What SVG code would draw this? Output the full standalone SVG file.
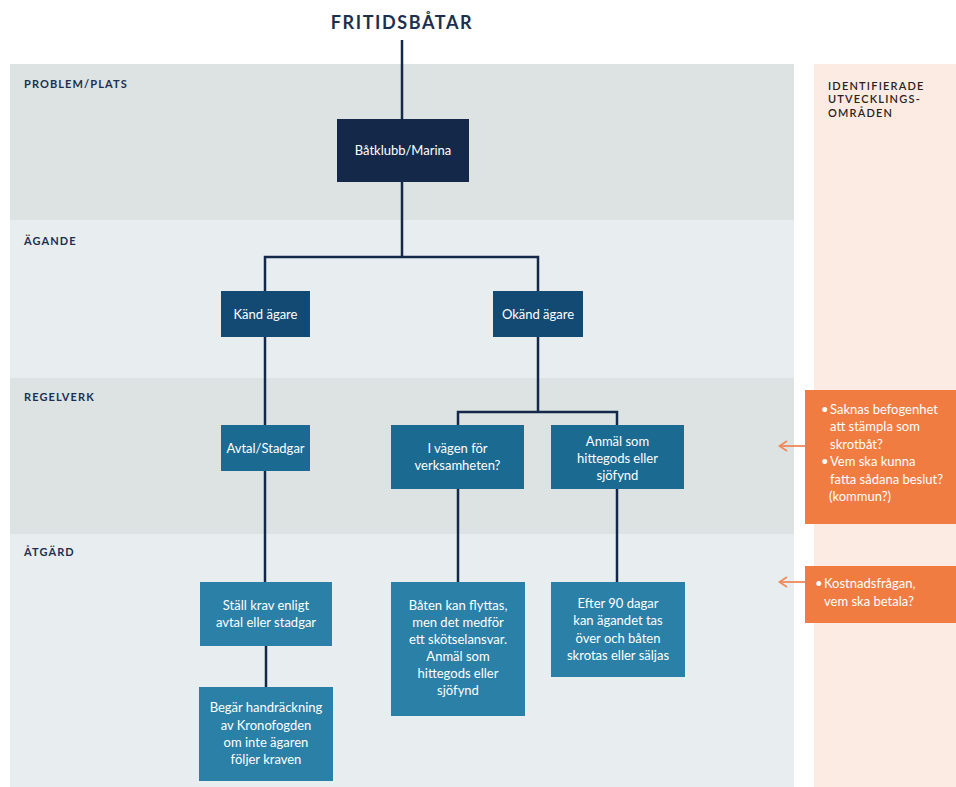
<svg xmlns="http://www.w3.org/2000/svg" width="956" height="787" viewBox="0 0 956 787">
  <defs>
    <style>
      .band-a { fill: #dde3e3; }
      .band-b { fill: #e8eef0; }
      .title { font-family: Lato, "Liberation Sans", sans-serif; font-weight: 700; font-size: 18px; letter-spacing: 1.6px; fill: #1b3050; text-anchor: middle; }
      .lane { font-family: Lato, "Liberation Sans", sans-serif; font-weight: 700; font-size: 11px; letter-spacing: 1.1px; fill: #1b3050; }
      .side { font-family: Lato, "Liberation Sans", sans-serif; font-weight: 600; font-size: 11px; letter-spacing: 1.2px; fill: #2a1f22; }
      .node-text { font-family: Lato, "Liberation Sans", sans-serif; font-size: 13px; fill: #ffffff; text-anchor: middle; }
      .note-text { font-family: Lato, "Liberation Sans", sans-serif; font-size: 13px; fill: #ffffff; }
      .lvl0 { fill: #14294a; }
      .lvl1 { fill: #124a73; }
      .lvl2 { fill: #1b6a92; }
      .lvl3 { fill: #2a80a7; }
      .note { fill: #f07c42; }
      .wire { fill: none; stroke: #14294a; stroke-width: 2.5; }
      .pointer { fill: none; stroke: #ee8a5c; stroke-width: 1.8; }
    </style>
    <!-- open chevron arrowhead, tip at the end of the path -->
    <marker id="chev" viewBox="0 0 10 12" refX="9" refY="6" markerWidth="10" markerHeight="12" markerUnits="userSpaceOnUse" orient="auto">
      <path d="M1,1 L8.5,6 L1,11" fill="none" stroke="#ee8a5c" stroke-width="1.8"/>
    </marker>
  </defs>

  <rect width="956" height="787" fill="#ffffff"/>

  <!-- swim lanes -->
  <g id="lanes">
    <rect class="band-a" x="10" y="64" width="784" height="156"/>
    <rect class="band-b" x="10" y="220" width="784" height="158"/>
    <rect class="band-a" x="10" y="378" width="784" height="156"/>
    <rect class="band-b" x="10" y="534" width="784" height="253"/>
    <rect x="814" y="64" width="142" height="723" fill="#fbebe3"/>
    <text class="lane" x="24" y="88">PROBLEM/PLATS</text>
    <text class="lane" x="24" y="245">ÄGANDE</text>
    <text class="lane" x="24" y="401">REGELVERK</text>
    <text class="lane" x="24" y="556">ÅTGÄRD</text>
    <text class="side" x="828" y="90">IDENTIFIERADE</text>
    <text class="side" x="828" y="103">UTVECKLINGS-</text>
    <text class="side" x="828" y="117">OMRÅDEN</text>
  </g>

  <text class="title" x="402" y="29">FRITIDSBÅTAR</text>

  <!-- connectors -->
  <g id="connectors">
    <path class="wire" d="M402,40 V119"/>
    <path class="wire" d="M402,182 V257 M265,291 V257 H538 V291"/>
    <path class="wire" d="M265,337 V425"/>
    <path class="wire" d="M265,471 V582"/>
    <path class="wire" d="M266,646 V687"/>
    <path class="wire" d="M538,337 V412 M458,425 V412 H617 V425"/>
    <path class="wire" d="M458,489 V582"/>
    <path class="wire" d="M617,489 V582"/>
    <path class="pointer" d="M805,446 H779" marker-end="url(#chev)"/>
    <path class="pointer" d="M805,582 H779" marker-end="url(#chev)"/>
  </g>

  <g id="batklubb">
    <rect class="lvl0" x="337" y="119" width="132" height="63"/>
    <text class="node-text" x="403" y="155">Båtklubb/Marina</text>
  </g>

  <g id="kand-agare">
    <rect class="lvl1" x="221" y="291" width="89" height="46"/>
    <text class="node-text" x="265.5" y="318.5">Känd ägare</text>
  </g>

  <g id="okand-agare">
    <rect class="lvl1" x="493" y="291" width="90" height="46"/>
    <text class="node-text" x="538" y="318.5">Okänd ägare</text>
  </g>

  <g id="avtal">
    <rect class="lvl2" x="221" y="425" width="89" height="46"/>
    <text class="node-text" x="265.5" y="452.5">Avtal/Stadgar</text>
  </g>

  <g id="i-vagen">
    <rect class="lvl2" x="391" y="425" width="133" height="64"/>
    <text class="node-text" x="457.5" y="452.5">I vägen för</text>
    <text class="node-text" x="457.5" y="470">verksamheten?</text>
  </g>

  <g id="anmal">
    <rect class="lvl2" x="551" y="425" width="133" height="64"/>
    <text class="node-text" x="617.5" y="445.5">Anmäl som</text>
    <text class="node-text" x="617.5" y="462.5">hittegods eller</text>
    <text class="node-text" x="617.5" y="479.5">sjöfynd</text>
  </g>

  <g id="stall-krav">
    <rect class="lvl3" x="200" y="582" width="132" height="64"/>
    <text class="node-text" x="266" y="609.5">Ställ krav enligt</text>
    <text class="node-text" x="266" y="627">avtal eller stadgar</text>
  </g>

  <g id="begar">
    <rect class="lvl3" x="199" y="687" width="134" height="94"/>
    <text class="node-text" x="266" y="712.2">Begär handräckning</text>
    <text class="node-text" x="266" y="729.6">av Kronofogden</text>
    <text class="node-text" x="266" y="747">om inte ägaren</text>
    <text class="node-text" x="266" y="764.4">följer kraven</text>
  </g>

  <g id="baten">
    <rect class="lvl3" x="391" y="582" width="134" height="134"/>
    <text class="node-text" x="458" y="609.5">Båten kan flyttas,</text>
    <text class="node-text" x="458" y="626.5">men det medför</text>
    <text class="node-text" x="458" y="643.5">ett skötselansvar.</text>
    <text class="node-text" x="458" y="660.5">Anmäl som</text>
    <text class="node-text" x="458" y="677.5">hittegods eller</text>
    <text class="node-text" x="458" y="694.5">sjöfynd</text>
  </g>

  <g id="efter">
    <rect class="lvl3" x="551" y="582" width="134" height="95"/>
    <text class="node-text" x="618" y="608">Efter 90 dagar</text>
    <text class="node-text" x="618" y="625.3">kan ägandet tas</text>
    <text class="node-text" x="618" y="642.6">över och båten</text>
    <text class="node-text" x="618" y="660">skrotas eller säljas</text>
  </g>

  <g id="note-befogenhet">
    <rect class="note" x="805" y="390" width="151" height="134"/>
    <text class="note-text" x="821" y="413.5">•</text>
    <text class="note-text" x="830" y="413.5">Saknas befogenhet</text>
    <text class="note-text" x="830" y="431">att stämpla som</text>
    <text class="note-text" x="830" y="448.5">skrotbåt?</text>
    <text class="note-text" x="821" y="466">•</text>
    <text class="note-text" x="830" y="466">Vem ska kunna</text>
    <text class="note-text" x="830" y="483.5">fatta sådana beslut?</text>
    <text class="note-text" x="829" y="501">(kommun?)</text>
  </g>

  <g id="note-kostnad">
    <rect class="note" x="805" y="566" width="151" height="57"/>
    <text class="note-text" x="815" y="588">•</text>
    <text class="note-text" x="824" y="588">Kostnadsfrågan,</text>
    <text class="note-text" x="824" y="605.5">vem ska betala?</text>
  </g>
</svg>
